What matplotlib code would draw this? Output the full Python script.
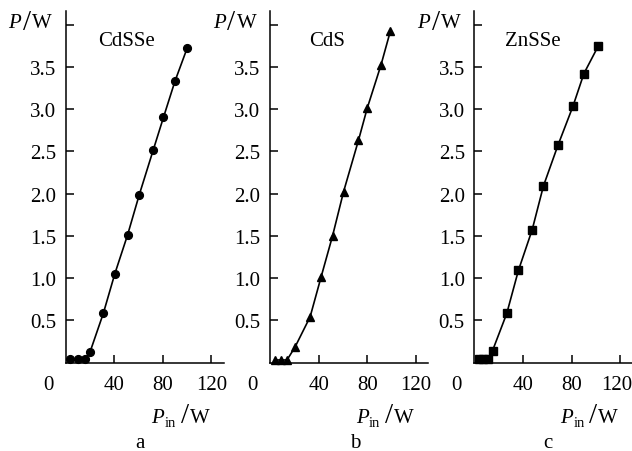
import matplotlib
matplotlib.use("Agg")
import matplotlib.pyplot as plt
from matplotlib.transforms import ScaledTranslation

plt.rcParams["font.family"] = ["Liberation Serif", "DejaVu Serif"]

# Input pump power (W) and output power (W) for each crystal
cdsse_pin = [4, 10, 16, 20, 31, 40.5, 51, 60.5, 72, 80.5, 90, 100]
cdsse_p = [0.04, 0.04, 0.04, 0.12, 0.58, 1.05, 1.51, 1.98, 2.51, 2.90, 3.33, 3.72]

cds_pin = [4, 9, 14, 20.5, 33, 42, 51.5, 60.5, 72.8, 80, 91.3, 99]
cds_p = [0.03, 0.03, 0.03, 0.18, 0.54, 1.01, 1.50, 2.02, 2.63, 3.01, 3.52, 3.92]

znsse_pin = [3.5, 7.5, 11.5, 15, 26.7, 36.3, 47.6, 56.9, 68.8, 81.1, 90.2, 101.8]
znsse_p = [0.04, 0.04, 0.04, 0.14, 0.58, 1.09, 1.57, 2.09, 2.57, 3.03, 3.42, 3.74]

names = ["CdSSe", "CdS", "ZnSSe"]
panel_letters = ["a", "b", "c"]
markers = ["o", "^", "s"]
x_ticks = [40, 80, 120]
y_ticks = [0.5, 1.0, 1.5, 2.0, 2.5, 3.0, 3.5, 4.0]
y_ticklabels = ["0.5", "1.0", "1.5", "2.0", "2.5", "3.0", "3.5", ""]

series = [(cdsse_pin, cdsse_p), (cds_pin, cds_p), (znsse_pin, znsse_p)]

W, H = 632.0, 452.0
fig = plt.figure(figsize=(W / 100, H / 100), dpi=100)

lefts = [65.6, 270.0, 474.3]
letter_dx = [74, 85, 74]
name_dx = [61, 57, 59]
ax_w = 158.0
ax_bottom = 363.5
ax_top = 12.0
ax_h = ax_bottom - ax_top
fs = 15
xpad_px = 12.5
ypad_px = 9.5


def ftext(x_px, y_px, s, **kw):
    """Place text at pixel coordinates measured from the top-left corner."""
    kw.setdefault("fontsize", fs)
    return fig.text(x_px / W, 1 - y_px / H, s, **kw)


for i, (left, (xs, ys)) in enumerate(zip(lefts, series)):
    ax = fig.add_axes([left / W, (H - ax_bottom) / H, ax_w / W, ax_h / H])
    ax.set_xlim(0, 130)
    ax.set_ylim(0, 4.16)
    ms = 5.6 if markers[i] == "o" else 6.3
    ax.plot(xs, ys, color="black", lw=1.2, marker=markers[i], ms=ms,
            mfc="black", mec="black", clip_on=False)
    for side in ["top", "right"]:
        ax.spines[side].set_visible(False)
    for side in ["left", "bottom"]:
        ax.spines[side].set_linewidth(1.1)
    ax.set_xticks(x_ticks)
    ax.set_xticklabels([str(t) for t in x_ticks])
    ax.set_yticks(y_ticks)
    ax.set_yticklabels(y_ticklabels)
    ax.tick_params(direction="in", length=6, width=1.1, labelsize=fs)
    ax.tick_params(axis="x", pad=xpad_px * 72 / 100)
    ax.tick_params(axis="y", pad=ypad_px * 72 / 100)
    if i == len(lefts) - 1:
        # keep the last tick label inside the figure edge
        lbl = ax.get_xticklabels()[-1]
        lbl.set_transform(lbl.get_transform()
                          + ScaledTranslation(-3 / 100, 0, fig.dpi_scale_trans))
    # origin label, aligned with the x tick labels
    ax.text(-0.111, -xpad_px / ax_h, "0", transform=ax.transAxes,
            fontsize=fs, ha="center", va="top")

    # y-axis title  P / W  with a tall slash
    ftext(left - 44.5, 28, "P", ha="right", va="baseline", fontstyle="italic")
    ftext(left - 38.5, 23, "/", ha="center", va="center", fontsize=21)
    ftext(left - 33.5, 28, "W", ha="left", va="baseline")

    # x-axis title  P_in / W
    ftext(left + 86, 423, "P", ha="left", va="baseline", fontstyle="italic")
    ftext(left + 99, 427, "in", ha="left", va="baseline", fontsize=10.5)
    ftext(left + 119, 416.5, "/", ha="center", va="center", fontsize=21)
    ftext(left + 124, 423, "W", ha="left", va="baseline")

    # panel letter and sample name
    ftext(left + letter_dx[i], 448, panel_letters[i], ha="center", va="baseline")
    ftext(left + name_dx[i], 41, names[i], ha="center", va="center")

fig.savefig("out.png", dpi=100, facecolor="white")
